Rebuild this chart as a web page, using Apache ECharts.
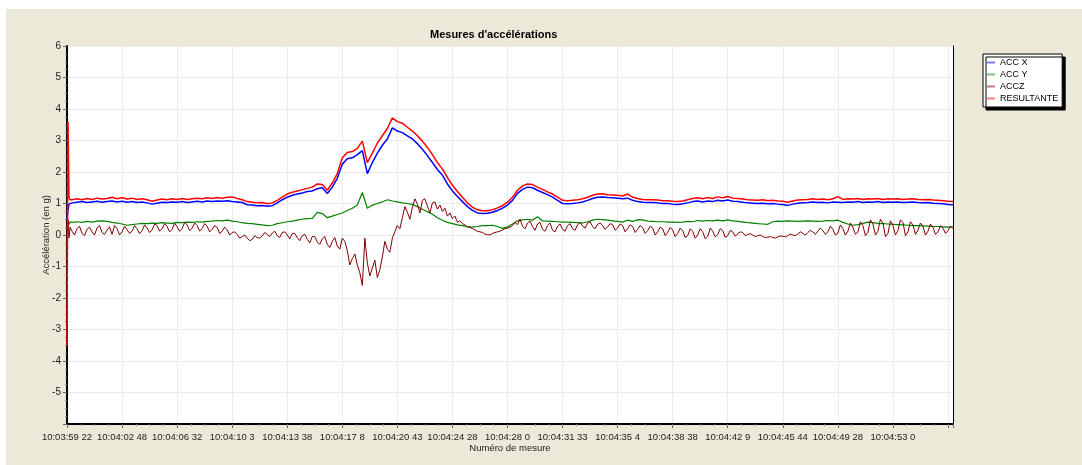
<!DOCTYPE html>
<html>
<head>
<meta charset="utf-8">
<title>Mesures d'accélérations</title>
<script src="https://cdn.jsdelivr.net/npm/echarts@6/dist/echarts.min.js"></script>
<style>
    html, body { margin: 0; padding: 0; background: #fff; }
    #chart { position: absolute; left: 6px; top: 9px; width: 1076px; height: 456px; background: #ECE9D8; }
</style>
</head>
<body>
<div id="chart"></div>
<script>
// libellés de l'axe des mesures (une étiquette toutes les 110 mesures)
var etiquettes = ["10:03:59 22", "10:04:02 48", "10:04:06 32", "10:04:10 3", "10:04:13 38", "10:04:17 8",
    "10:04:20 43", "10:04:24 28", "10:04:28 0", "10:04:31 33", "10:04:35 4", "10:04:38 38",
    "10:04:42 9", "10:04:45 44", "10:04:49 28", "10:04:53 0"];
var pasEtiquette = 110;
var derniereMesure = 1770;

// pic au démarrage (mesures 0 à 6)
var mesuresPic = [0, 2, 4, 6];
var accXPic = [0.5, 0.8, 0.98, 1.0];
var accYPic = [0.3, 0.4, 0.33, 0.42];
var accZPic = [-0.4, 0.5, -0.1, 0.25];
var resultantePic = [-3.5, 3.6, 1.2, 1.12];

// relevés X, Y et résultante : une valeur toutes les 10 mesures (à partir de la mesure 10)
var pasMesure = 10;
// relevé Z (très bruité) : une valeur toutes les 5 mesures (à partir de la mesure 5)
var pasMesureZ = 5;

var accX = [
    1.02, 1.04, 1.06, 1.03, 1.05, 1.07, 1.04, 1.06, 1.08, 1.05,
    1.07, 1.04, 1.06, 1.03, 1.05, 1.02, 0.98, 1.01, 1.04, 1.03,
    1.05, 1.04, 1.06, 1.03, 1.05, 1.07, 1.05, 1.08, 1.06, 1.08,
    1.07, 1.09, 1.06, 1.05, 1.03, 0.96, 0.95, 0.93, 0.94, 0.91,
    0.93, 1.02, 1.12, 1.2, 1.26, 1.3, 1.33, 1.38, 1.4, 1.47,
    1.5, 1.32, 1.52, 1.8, 2.25, 2.42, 2.45, 2.55, 2.68, 1.95,
    2.3, 2.6, 2.85, 3.05, 3.4, 3.3, 3.25, 3.15, 3.05, 2.9,
    2.72, 2.52, 2.3, 2.08, 1.9, 1.62, 1.4, 1.22, 1.06, 0.9,
    0.78, 0.7, 0.68, 0.69, 0.72, 0.78, 0.85, 0.95, 1.1, 1.32,
    1.45, 1.52, 1.5, 1.42, 1.35, 1.28, 1.2, 1.1, 1.0, 0.99,
    1.0, 1.02, 1.05, 1.1, 1.16, 1.2, 1.21, 1.19, 1.18, 1.17,
    1.15, 1.17, 1.1, 1.06, 1.04, 1.03, 1.03, 1.02, 1.0, 1.0,
    0.98, 0.97, 0.99, 1.02, 1.06, 1.08, 1.05, 1.08, 1.06, 1.1,
    1.08, 1.11, 1.07, 1.06, 1.04, 1.02, 1.01, 1.0, 1.01, 0.99,
    1.0, 0.98, 0.97, 0.94, 0.98, 1.01, 1.02, 1.03, 1.05, 1.03,
    1.04, 1.02, 1.05, 1.04, 1.03, 1.05, 1.04, 1.06, 1.03, 1.05,
    1.04, 1.06, 1.03, 1.05, 1.04, 1.05, 1.03, 1.04, 1.05, 1.03,
    1.02, 1.03, 1.01, 1.0, 0.99, 0.97, 0.96
];

var accY = [
    0.4, 0.42, 0.4, 0.43, 0.41, 0.44, 0.45, 0.43, 0.4, 0.38,
    0.35, 0.31, 0.33, 0.35, 0.37, 0.36, 0.38, 0.37, 0.39, 0.38,
    0.37, 0.4, 0.39, 0.41, 0.4, 0.42, 0.41, 0.43, 0.44, 0.46,
    0.45, 0.47, 0.44, 0.42, 0.39, 0.37, 0.36, 0.34, 0.32, 0.3,
    0.31, 0.36, 0.39, 0.42, 0.44, 0.47, 0.5, 0.52, 0.53, 0.72,
    0.68, 0.55, 0.6, 0.65, 0.7, 0.78, 0.85, 0.95, 1.35, 0.85,
    0.95, 1.0, 1.05, 1.12, 1.08, 1.05, 1.02, 1.0, 0.97, 0.9,
    0.82, 0.74, 0.66, 0.55, 0.47, 0.4, 0.36, 0.32, 0.3, 0.27,
    0.25, 0.27, 0.3, 0.3, 0.31, 0.27, 0.21, 0.26, 0.35, 0.45,
    0.48, 0.5, 0.47, 0.58, 0.45, 0.44, 0.43, 0.42, 0.41, 0.41,
    0.4, 0.39, 0.38, 0.42, 0.47, 0.5, 0.49, 0.47, 0.45, 0.43,
    0.41, 0.47, 0.43, 0.49, 0.48, 0.44, 0.43, 0.42, 0.42, 0.41,
    0.41, 0.4, 0.41, 0.43, 0.42, 0.46, 0.44, 0.46, 0.45, 0.47,
    0.45, 0.48, 0.45, 0.43, 0.41, 0.39, 0.38, 0.36, 0.35, 0.34,
    0.42, 0.44, 0.43, 0.45, 0.44, 0.43, 0.44, 0.45, 0.44, 0.43,
    0.44, 0.46, 0.45, 0.47, 0.4, 0.35, 0.31, 0.33, 0.37, 0.41,
    0.39, 0.37, 0.36, 0.35, 0.34, 0.33, 0.32, 0.31, 0.3, 0.3,
    0.29, 0.28, 0.27, 0.27, 0.26, 0.25, 0.26
];

var accZ = [
    0.3, 0.12, 0.0, 0.2, 0.28, 0.05, -0.02, 0.18, 0.25, 0.1, 0.0, 0.22, 0.3, 0.08, 0.02, 0.15, 0.26, 0.02, 0.3, 0.2,
    0.0, 0.1, 0.28, 0.17, 0.05, 0.12, 0.3, 0.2, 0.04, 0.14, 0.32, 0.22, 0.08, 0.16, 0.35, 0.3, 0.12, 0.2, 0.36, 0.27,
    0.1, 0.18, 0.38, 0.26, 0.12, 0.2, 0.4, 0.32, 0.14, 0.22, 0.38, 0.3, 0.12, 0.21, 0.36, 0.28, 0.1, 0.18, 0.3, 0.24,
    0.05, 0.12, 0.25, 0.16, 0.0, 0.08, 0.1, 0.02, -0.1, -0.05, 0.0, -0.1, -0.18, -0.14, -0.02, -0.08, -0.1, -0.03, 0.08, 0.02,
    -0.05, 0.06, 0.12, -0.02, -0.08, 0.08, 0.1, 0.0, -0.12, 0.05, 0.05, -0.08, -0.18, -0.02, 0.02, -0.14, -0.25, -0.05, -0.05, -0.22,
    -0.3, -0.12, -0.05, -0.3, -0.4, -0.2, -0.08, -0.35, -0.45, -0.1, -0.2, -0.5, -0.95, -0.75, -0.6, -0.95, -1.2, -1.6, -0.1, -0.88,
    -1.3, -1.05, -0.8, -1.35, -1.1, -0.7, -0.2, -0.45, -0.55, -0.1, 0.1, 0.3, 0.2, 0.55, 0.9, 0.72, 0.5, 0.88, 1.15, 0.98,
    0.7, 1.1, 1.15, 0.92, 0.7, 1.02, 1.05, 0.82, 0.95, 0.75, 0.85, 0.6, 0.7, 0.52, 0.6, 0.4, 0.45, 0.36, 0.32, 0.25,
    0.24, 0.2, 0.16, 0.12, 0.1, 0.08, 0.03, 0.01, 0.0, 0.05, 0.08, 0.1, 0.12, 0.16, 0.2, 0.22, 0.25, 0.3, 0.4, 0.33,
    0.5, 0.28, 0.2, 0.38, 0.45, 0.26, 0.15, 0.35, 0.4, 0.18, 0.12, 0.3, 0.38, 0.15, 0.1, 0.28, 0.35, 0.18, 0.12, 0.3,
    0.36, 0.2, 0.15, 0.32, 0.4, 0.28, 0.22, 0.38, 0.42, 0.27, 0.2, 0.34, 0.38, 0.3, 0.18, 0.26, 0.36, 0.33, 0.15, 0.22,
    0.35, 0.3, 0.1, 0.2, 0.32, 0.27, 0.08, 0.18, 0.3, 0.24, 0.05, 0.14, 0.28, 0.22, 0.0, 0.1, 0.25, 0.2, -0.02, 0.08,
    0.24, 0.16, -0.05, 0.05, 0.22, 0.14, -0.08, -0.02, 0.2, 0.12, -0.1, 0.0, 0.2, 0.1, -0.12, -0.05, 0.22, 0.12, -0.06, 0.02,
    0.2, 0.14, -0.08, -0.02, 0.15, 0.1, -0.04, 0.04, 0.1, 0.08, -0.02, 0.02, 0.04, 0.0, -0.05, -0.02, 0.0, -0.05, -0.08, -0.07,
    -0.05, -0.08, -0.1, -0.06, -0.03, -0.04, -0.06, -0.02, 0.03, 0.0, -0.02, 0.03, 0.1, 0.05, 0.0, 0.08, 0.15, 0.1, 0.02, 0.12,
    0.22, 0.14, 0.02, 0.1, 0.28, 0.18, 0.0, 0.06, 0.32, 0.2, 0.0, 0.12, 0.38, 0.25, 0.02, 0.1, 0.42, 0.3, -0.02, 0.08,
    0.48, 0.35, 0.0, 0.12, 0.5, 0.38, -0.05, 0.05, 0.45, 0.3, 0.0, 0.14, 0.48, 0.4, -0.02, 0.1, 0.42, 0.32, 0.02, 0.16,
    0.38, 0.28, 0.0, 0.12, 0.35, 0.24, 0.02, 0.1, 0.3, 0.22, 0.05, 0.14, 0.28, 0.2
];

var resultante = [
    1.12, 1.15, 1.12, 1.16, 1.13, 1.17, 1.14, 1.16, 1.2, 1.15,
    1.18, 1.14, 1.17, 1.13, 1.15, 1.12, 1.07, 1.11, 1.14, 1.12,
    1.15, 1.13, 1.16, 1.13, 1.15, 1.17, 1.15, 1.18, 1.16, 1.19,
    1.17, 1.2, 1.21, 1.16, 1.12, 1.06, 1.04, 1.02, 1.03, 0.99,
    1.02, 1.1, 1.2, 1.3, 1.36, 1.4, 1.44, 1.48, 1.52, 1.62,
    1.6, 1.42, 1.65, 1.95, 2.45, 2.62, 2.65, 2.75, 2.98, 2.3,
    2.6, 2.92, 3.15, 3.38, 3.72, 3.6, 3.55, 3.42, 3.3, 3.15,
    2.98, 2.78, 2.55, 2.3, 2.1, 1.82, 1.58, 1.38, 1.2, 1.02,
    0.88, 0.8, 0.77, 0.77, 0.8, 0.86, 0.93, 1.04, 1.2, 1.42,
    1.56, 1.62, 1.6, 1.52, 1.45, 1.37, 1.3, 1.2, 1.1, 1.09,
    1.1, 1.12, 1.15, 1.2, 1.26, 1.3, 1.31, 1.28, 1.27, 1.26,
    1.24, 1.3, 1.2, 1.16, 1.13, 1.12, 1.12, 1.11, 1.09, 1.09,
    1.07, 1.06, 1.08, 1.12, 1.16, 1.18, 1.15, 1.19, 1.16, 1.21,
    1.18, 1.22, 1.17, 1.16, 1.14, 1.12, 1.11, 1.1, 1.12, 1.09,
    1.1, 1.08, 1.07, 1.04, 1.08, 1.11, 1.12, 1.13, 1.15, 1.13,
    1.14, 1.12, 1.15, 1.22, 1.13, 1.15, 1.14, 1.16, 1.13, 1.15,
    1.14, 1.16, 1.13, 1.15, 1.14, 1.15, 1.13, 1.14, 1.15, 1.13,
    1.12, 1.13, 1.11, 1.1, 1.09, 1.07, 1.06
];

var police = "'Liberation Sans', Arial, sans-serif";

function serie(pic, valeurs, pas) {
    var data = pic.map(function (v, k) { return [mesuresPic[k], v]; });
    return data.concat(valeurs.map(function (v, i) { return [(i + 1) * pas, v]; }));
}

function ligne(nom, couleur, pic, valeurs, pas, epaisseur) {
    return {
        name: nom,
        type: "line",
        data: serie(pic, valeurs, pas),
        showSymbol: false,
        symbol: "none",
        color: couleur,
        lineStyle: { width: epaisseur, color: couleur },
        emphasis: { disabled: true }
    };
}

var chart = echarts.init(document.getElementById("chart"));

var option = {
    animation: false,
    textStyle: { fontFamily: police },
    title: {
        text: "Mesures d'accélérations",
        left: 424,
        top: 20,
        padding: 0,
        textStyle: { fontSize: 11, fontWeight: "bold", color: "#000", fontFamily: police }
    },
    legend: {
        orient: "vertical",
        left: 977,
        top: 45,
        padding: 4,
        icon: "rect",
        itemWidth: 8,
        itemHeight: 2,
        itemGap: 3,
        itemTextGap: 3,
        backgroundColor: "#fff",
        borderColor: "#000",
        borderWidth: 1,
        borderRadius: 0,
        shadowColor: "#000",
        shadowBlur: 0,
        shadowOffsetX: 3,
        shadowOffsetY: 3,
        textStyle: { fontSize: 9, color: "#000", fontFamily: police },
        data: [
            { name: "ACC X", itemStyle: { color: "#7f7fff" } },
            { name: "ACC Y", itemStyle: { color: "#7fbf7f" } },
            { name: "ACCZ", itemStyle: { color: "#bf7f7f" } },
            { name: "RESULTANTE", itemStyle: { color: "#ff7f7f" } }
        ]
    },
    grid: {
        left: 61,
        top: 37,
        width: 886,
        height: 378,
        show: true,
        backgroundColor: "#fff",
        borderWidth: 0
    },
    xAxis: {
        type: "value",
        min: 0,
        max: derniereMesure,
        interval: pasEtiquette,
        name: "Numéro de mesure",
        nameLocation: "middle",
        nameGap: 19,
        nameMoveOverlap: false,
        nameTextStyle: { fontSize: 9.5, color: "#222", fontFamily: police },
        axisLine: { onZero: false, lineStyle: { color: "#000", width: 2 } },
        axisTick: { length: 4, lineStyle: { color: "#666" } },
        minorTick: { show: true, splitNumber: 4, length: 2, lineStyle: { color: "#888" } },
        axisLabel: {
            margin: 8,
            fontSize: 9.5,
            color: "#222",
            showMaxLabel: false,
            formatter: function (v) {
                var k = v / pasEtiquette;
                return (Math.abs(k - Math.round(k)) < 1e-6 && etiquettes[Math.round(k)]) || "";
            }
        },
        splitLine: { show: true, lineStyle: { color: "#ebebeb", width: 1 } }
    },
    yAxis: [{
        type: "value",
        min: -6,
        max: 6,
        interval: 1,
        name: "Accélération (en g)",
        nameLocation: "middle",
        nameGap: 16,
        nameMoveOverlap: false,
        nameTextStyle: { fontSize: 9.5, color: "#222", fontFamily: police },
        axisLine: { show: true, lineStyle: { color: "#000", width: 2 } },
        axisTick: { show: true, length: 4, lineStyle: { color: "#666" } },
        minorTick: { show: true, splitNumber: 4, length: 2, lineStyle: { color: "#888" } },
        axisLabel: {
            margin: 6,
            fontSize: 10,
            color: "#222",
            formatter: function (v) { return v === -6 ? "" : String(v); }
        },
        splitLine: { show: true, lineStyle: { color: "#ebebeb", width: 1 } }
    }, {
        type: "value",
        position: "right",
        min: -6,
        max: 6,
        axisLine: { show: true, lineStyle: { color: "#000", width: 1 } },
        axisTick: { show: false },
        axisLabel: { show: false },
        splitLine: { show: false }
    }],
    series: [
        ligne("ACC X", "#0000ff", accXPic, accX, pasMesure, 1.5),
        ligne("ACC Y", "#008000", accYPic, accY, pasMesure, 1.2),
        ligne("ACCZ", "#800000", accZPic, accZ, pasMesureZ, 1),
        ligne("RESULTANTE", "#ff0000", resultantePic, resultante, pasMesure, 1.5)
    ]
};

chart.setOption(option);
</script>
</body>
</html>
